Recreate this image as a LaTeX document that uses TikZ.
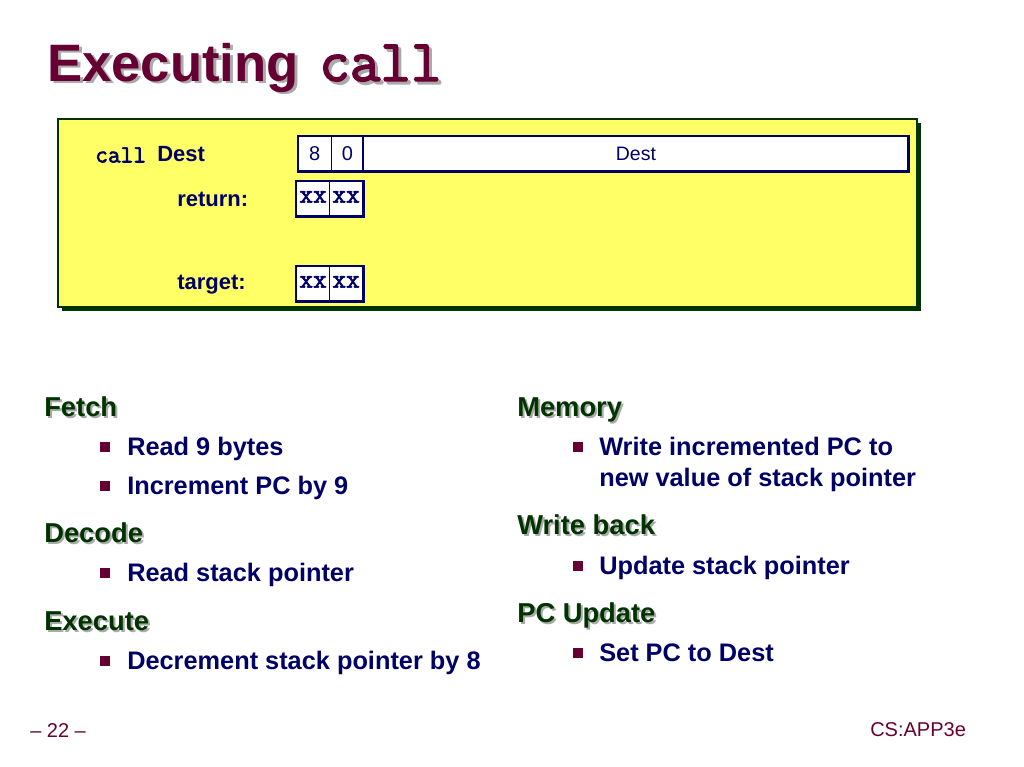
\documentclass[tikz,border=0pt]{standalone}
\usepackage{fontspec}
\setmainfont{Liberation Sans}
\newfontfamily\courb{Latin Modern Mono}[FakeBold=2.5]
\definecolor{maroon}{RGB}{102,0,51}
\definecolor{dgreen}{RGB}{0,51,0}
\definecolor{navy}{RGB}{0,0,102}
\definecolor{ylw}{RGB}{255,255,102}
\definecolor{shadowgray}{RGB}{170,170,170}
\tikzset{
  px/.style={x=0.75pt,y=-0.75pt},
  titletext/.style={inner sep=0pt,anchor=base west,text=maroon,font=\fontsize{39.5}{42}\selectfont\bfseries},
  titleshadow/.style={titletext,text=shadowgray},
  heading/.style={inner sep=0pt,anchor=base west,text=dgreen,font=\fontsize{20.5}{24}\selectfont\bfseries},
  headshadow/.style={heading,text=shadowgray},
  item/.style={inner sep=0pt,anchor=base west,text=navy,font=\fontsize{19}{23.5}\selectfont\bfseries},
  bullet/.style={fill=maroon,draw=none,minimum size=7.5pt,inner sep=0pt},
  lbl/.style={inner sep=0pt,anchor=west,text=navy,font=\fontsize{16.5}{20}\selectfont\bfseries},
  cell/.style={draw=navy,line width=0.6pt,fill=white,inner sep=0pt,text=navy},
  cellout/.style={draw=navy,line width=2.2pt},
  xxcell/.style={cell,minimum width=25pt,minimum height=26.25pt,anchor=north west,font=\fontsize{20}{20}\courb},
  footer/.style={inner sep=0pt,text=maroon,font=\fontsize{15}{17}\selectfont},
}
\begin{document}
\begin{tikzpicture}[px]
\useasboundingbox (0,0) rectangle (1024,767);
% title
\node[titleshadow] (tshadow) at (50,84) {Executing};
\node[titletext] (title) at (47,81) {Executing};
\node[titleshadow,font=\fontsize{44.5}{46}\courb] (tcshadow) at (322,84) {call};
\node[titletext,font=\fontsize{44.5}{46}\courb] (tcall) at (319,81) {call};
% yellow box
\fill[dgreen] (62,123) rectangle (921,311);
\draw[fill=ylw,draw=dgreen,line width=0.8pt] (58,119) rectangle (917,307);
% labels
\node[lbl,font=\fontsize{18.5}{20}\courb] (lcall) at (95,155) {call};
\node[lbl] (ldest) at (157,154) {Dest};
\node[lbl] (lret) at (177,199) {return:};
\node[lbl] (ltgt) at (177,285) {target:};
% instruction cells
\node[cell,minimum width=24.5pt,minimum height=26.25pt,anchor=north west,font=\fontsize{15}{18}\selectfont] (c8) at (298,136) {8};
\node[cell,minimum width=24pt,minimum height=26.25pt,anchor=north west,font=\fontsize{15}{18}\selectfont] (c0) at (331,136) {0};
\node[cell,minimum width=408.75pt,minimum height=26.25pt,anchor=north west,font=\fontsize{14.6}{18}\selectfont] (cdest) at (363,136) {\raisebox{-2pt}{Dest}};
\draw[cellout] (c8.north west) rectangle (cdest.south east);
\draw[navy,line width=2.2pt] (cdest.north west) -- (cdest.south west);
% return cells
\node[xxcell] (r1) at (296,181) {\raisebox{3pt}{xx}};
\node[xxcell] (r2) at (329,181) {\raisebox{3pt}{xx}};
\draw[cellout] (r1.north west) rectangle (r2.south east);
% target cells
\node[xxcell] (t1) at (296,266) {\raisebox{3pt}{xx}};
\node[xxcell] (t2) at (329,266) {\raisebox{3pt}{xx}};
\draw[cellout] (t1.north west) rectangle (t2.south east);
% left column
\node[headshadow] at (46,418) {Fetch};
\node[heading] (hfetch) at (44,416) {Fetch};
\node[bullet] (b1) at (105,447) {};
\node[item] (i1) at (127,455) {Read 9 bytes};
\node[bullet] (b2) at (105,486) {};
\node[item] (i2) at (127,494) {Increment PC by 9};
\node[headshadow] at (46,544) {Decode};
\node[heading] (hdecode) at (44,542) {Decode};
\node[bullet] (b3) at (105,573) {};
\node[item] (i3) at (127,581) {Read stack pointer};
\node[headshadow] at (46,632) {Execute};
\node[heading] (hexec) at (44,630) {Execute};
\node[bullet] (b4) at (105,661) {};
\node[item] (i4) at (127,669) {Decrement stack pointer by 8};
% right column
\node[headshadow] at (519,418) {Memory};
\node[heading] (hmem) at (517,416) {Memory};
\node[bullet] (b5) at (578,447) {};
\node[item] (i5) at (599,455) {Write incremented PC to};
\node[item] (i5b) at (599,486) {new value of stack pointer};
\node[headshadow] at (519,536) {Write back};
\node[heading] (hwb) at (517,534) {Write back};
\node[bullet] (b6) at (578,566) {};
\node[item] (i6) at (599,574) {Update stack pointer};
\node[headshadow] at (519,624) {PC Update};
\node[heading] (hpc) at (517,622) {PC Update};
\node[bullet] (b7) at (578,653) {};
\node[item] (i7) at (599,661) {Set PC to Dest};
% footer
\node[footer,anchor=west] (pg) at (30,731) {– 22 –};
\node[footer,anchor=west] (book) at (870,730) {CS:APP3e};
\end{tikzpicture}
\end{document}
